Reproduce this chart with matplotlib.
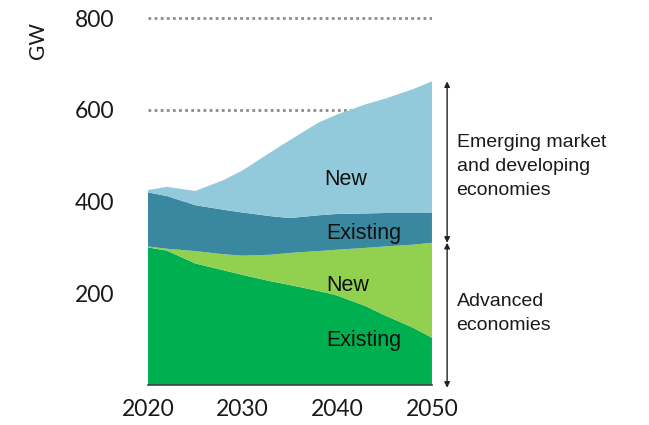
import matplotlib.pyplot as plt
import numpy as np

# capacity by region and vintage, GW
years = [2020, 2022, 2025, 2028, 2030, 2033, 2035, 2038, 2040, 2043, 2045, 2048, 2050]
adv_existing = [300, 293, 265, 250, 240, 226, 218, 205, 195, 172, 152, 125, 103]
adv_new = [2, 4, 27, 35, 42, 58, 70, 87, 100, 127, 150, 181, 207]
emde_existing = [118, 115, 100, 97, 94, 84, 76, 78, 78, 75, 73, 69, 65]
emde_new = [5, 20, 31, 65, 92, 140, 170, 202, 217, 238, 249, 270, 287]

layer_colors = ['#00b050', '#92d050', '#3a87a0', '#93cadb']
yticks = [200, 400, 600, 800]
xticks = [2020, 2030, 2040, 2050]

fig = plt.figure(figsize=(6.49, 4.25), dpi=100)
ax = fig.add_axes([0.228, 0.0941, 0.4376, 0.885])

# dotted reference lines sit behind the stack
ax.hlines(yticks, 2020, 2050, colors='#8c8c8c', linestyles=(0, (1, 1.2)), linewidth=2, zorder=0)
ax.stackplot(years, adv_existing, adv_new, emde_existing, emde_new,
             colors=layer_colors, linewidth=0, zorder=1)

ax.set_xlim(2020, 2050)
ax.set_ylim(0, 820)
ax.set_yticks(yticks)
ax.set_xticks(xticks)
ax.tick_params(axis='y', length=0, pad=24, labelsize=16.5, labelcolor='#1a1a1a')
ax.tick_params(axis='x', length=0, pad=10, labelsize=16.5, labelcolor='#1a1a1a')
for lbl in ax.get_xticklabels() + ax.get_yticklabels():
    lbl.set_family('Lato')
for side in ['top', 'right', 'left']:
    ax.spines[side].set_visible(False)
ax.spines['bottom'].set_color('#404040')
ax.spines['bottom'].set_linewidth(1.2)

fig.text(0.058, 0.905, 'GW', rotation=90, ha='center', va='center',
         fontsize=15, family='Lato', color='#1a1a1a')

# layer labels
adv_top = np.array(adv_existing) + np.array(adv_new)
emde_ex_top = adv_top + np.array(emde_existing)
total = emde_ex_top + np.array(emde_new)
lab = dict(ha='center', va='center', fontsize=15.5, family='Liberation Sans', color='#111111')
ax.text(2040.9, 447, 'New', **lab)
ax.text(2042.8, 331, 'Existing', **lab)
ax.text(2041.1, 218, 'New', **lab)
ax.text(2042.8, 98, 'Existing', **lab)

# bracketing arrows on the right
ax_x = 2051.6
arrow = dict(arrowstyle='<|-|>', color='#222222', lw=1.0, mutation_scale=8,
             shrinkA=0, shrinkB=0)
ax.annotate('', xy=(ax_x, total[-1]), xytext=(ax_x, adv_top[-1]),
            arrowprops=arrow, annotation_clip=False)
ax.annotate('', xy=(ax_x, adv_top[-1]), xytext=(ax_x, -6),
            arrowprops=arrow, annotation_clip=False)

side = dict(ha='left', va='center', fontsize=14, family='Liberation Sans',
            color='#1a1a1a', linespacing=1.55, clip_on=False)
ax.text(2052.6, 477, 'Emerging market\nand developing\neconomies', **side)
ax.text(2052.6, 155, 'Advanced\neconomies', **side)

fig.savefig('out.png', dpi=100)
